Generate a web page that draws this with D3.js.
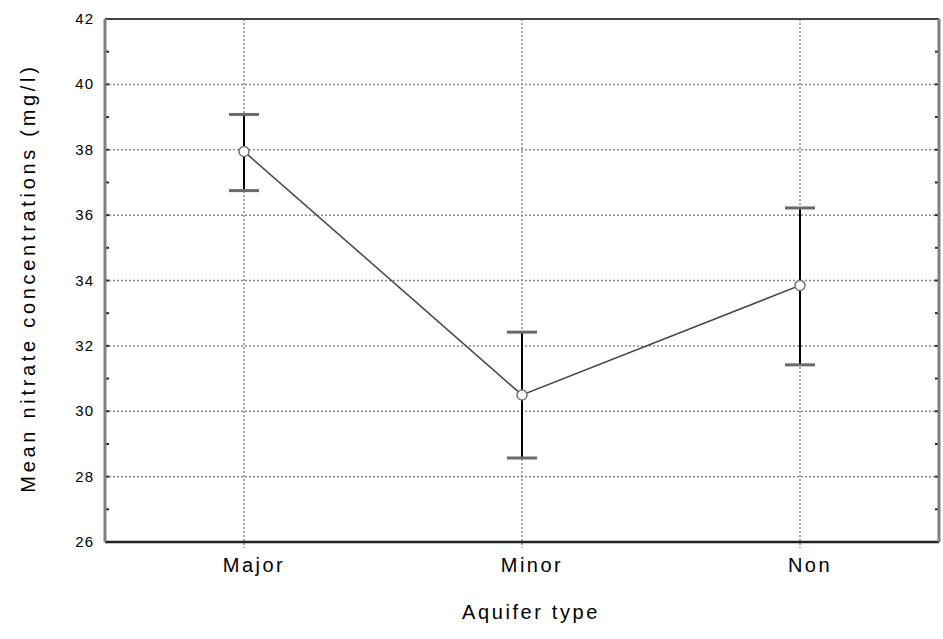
<!DOCTYPE html>
<html lang="en">
<head>
    <meta charset="UTF-8">
    <title>Mean nitrate concentrations by aquifer type</title>
    <script src="https://d3js.org/d3.v7.min.js"></script>
    <style>
        body { margin: 0; background: #fff; }
        text { font-family: Arial, "Liberation Sans", sans-serif; fill: #000; }
        .tick-label { font-size: 15px; letter-spacing: 1px; }
        .cat-label { font-size: 20px; letter-spacing: 2.5px; }
        .axis-title { font-size: 20px; letter-spacing: 2.6px; }
        .y-title { letter-spacing: 3.7px; }
    </style>
</head>
<body>
    <svg id="chart" width="943" height="639"></svg>
    <script>
        // data
        const categories = ["Major", "Minor", "Non"];
        const means = [37.95, 30.5, 33.85];
        const upper = [39.08, 32.42, 36.22];
        const lower = [36.75, 28.57, 31.42];
        const yTicks = [26, 28, 30, 32, 34, 36, 38, 40, 42];

        const svg = d3.select("#chart");
        const plotL = 105, plotR = 939, plotT = 19, plotB = 542;

        const x = d3.scaleBand().domain(categories).range([plotL, plotR]).padding(0);
        const y = d3.scaleLinear().domain([26, 42]).range([plotB, plotT]);
        const cx = d => x(d) + x.bandwidth() / 2;

        const data = categories.map((c, i) => ({ cat: c, mean: means[i], hi: upper[i], lo: lower[i] }));

        // grid
        svg.append("g").selectAll("line").data(yTicks.slice(1, -1)).enter().append("line")
            .attr("x1", plotL).attr("x2", plotR)
            .attr("y1", d => y(d)).attr("y2", d => y(d))
            .attr("stroke", "#8a8a8a").attr("stroke-width", 1.5).attr("stroke-dasharray", "2,2");
        svg.append("g").selectAll("line").data(categories).enter().append("line")
            .attr("x1", d => cx(d)).attr("x2", d => cx(d))
            .attr("y1", plotT).attr("y2", plotB + 6)
            .attr("stroke", "#8a8a8a").attr("stroke-width", 1.5).attr("stroke-dasharray", "2,2");

        // small inner ticks on both sides
        const minor = d3.range(26, 43, 1);
        svg.append("g").selectAll("line").data(minor).enter().append("line")
            .attr("x1", plotL).attr("x2", plotL + 4)
            .attr("y1", d => y(d)).attr("y2", d => y(d))
            .attr("stroke", "#222").attr("stroke-width", 2);
        svg.append("g").selectAll("line").data(minor).enter().append("line")
            .attr("x1", plotR - 4).attr("x2", plotR)
            .attr("y1", d => y(d)).attr("y2", d => y(d))
            .attr("stroke", "#222").attr("stroke-width", 2);

        // frame
        svg.append("line").attr("x1", plotL).attr("x2", plotR).attr("y1", plotT).attr("y2", plotT)
            .attr("stroke", "#444").attr("stroke-width", 2);
        svg.append("line").attr("x1", plotL).attr("x2", plotR).attr("y1", plotB).attr("y2", plotB)
            .attr("stroke", "#222").attr("stroke-width", 2.5);
        svg.append("line").attr("x1", plotL).attr("x2", plotL).attr("y1", plotT).attr("y2", plotB)
            .attr("stroke", "#808080").attr("stroke-width", 3);
        svg.append("line").attr("x1", plotR).attr("x2", plotR).attr("y1", plotT).attr("y2", plotB)
            .attr("stroke", "#808080").attr("stroke-width", 3);

        // y tick labels
        svg.append("g").selectAll("text").data(yTicks).enter().append("text")
            .attr("class", "tick-label")
            .attr("x", plotL - 11).attr("y", d => y(d) + 5)
            .attr("text-anchor", "end")
            .text(d => d);

        // category labels
        svg.append("g").selectAll("text").data(categories).enter().append("text")
            .attr("class", "cat-label")
            .attr("x", d => cx(d) + 10).attr("y", 572)
            .attr("text-anchor", "middle")
            .text(d => d);

        // axis titles
        svg.append("text").attr("class", "axis-title")
            .attr("x", 531).attr("y", 619).attr("text-anchor", "middle")
            .text("Aquifer type");
        svg.append("text").attr("class", "axis-title y-title")
            .attr("transform", `translate(35,${278}) rotate(-90)`)
            .attr("text-anchor", "middle")
            .text("Mean nitrate concentrations (mg/l)");

        // error bars
        const eb = svg.append("g");
        eb.selectAll(".whisker").data(data).enter().append("line")
            .attr("x1", d => cx(d.cat)).attr("x2", d => cx(d.cat))
            .attr("y1", d => y(d.hi)).attr("y2", d => y(d.lo))
            .attr("stroke", "#000").attr("stroke-width", 2);
        ["hi", "lo"].forEach(k => {
            eb.selectAll(".cap-" + k).data(data).enter().append("line")
                .attr("x1", d => cx(d.cat) - 15).attr("x2", d => cx(d.cat) + 15)
                .attr("y1", d => y(d[k])).attr("y2", d => y(d[k]))
                .attr("stroke", "#6a6a6a").attr("stroke-width", 3);
        });

        // mean line + markers
        const line = d3.line().x(d => cx(d.cat)).y(d => y(d.mean));
        svg.append("path").datum(data).attr("d", line)
            .attr("fill", "none").attr("stroke", "#444").attr("stroke-width", 1.5);
        svg.append("g").selectAll("circle").data(data).enter().append("circle")
            .attr("cx", d => cx(d.cat)).attr("cy", d => y(d.mean)).attr("r", 5)
            .attr("fill", "#fff").attr("stroke", "#777").attr("stroke-width", 1.5);
    </script>
</body>
</html>
